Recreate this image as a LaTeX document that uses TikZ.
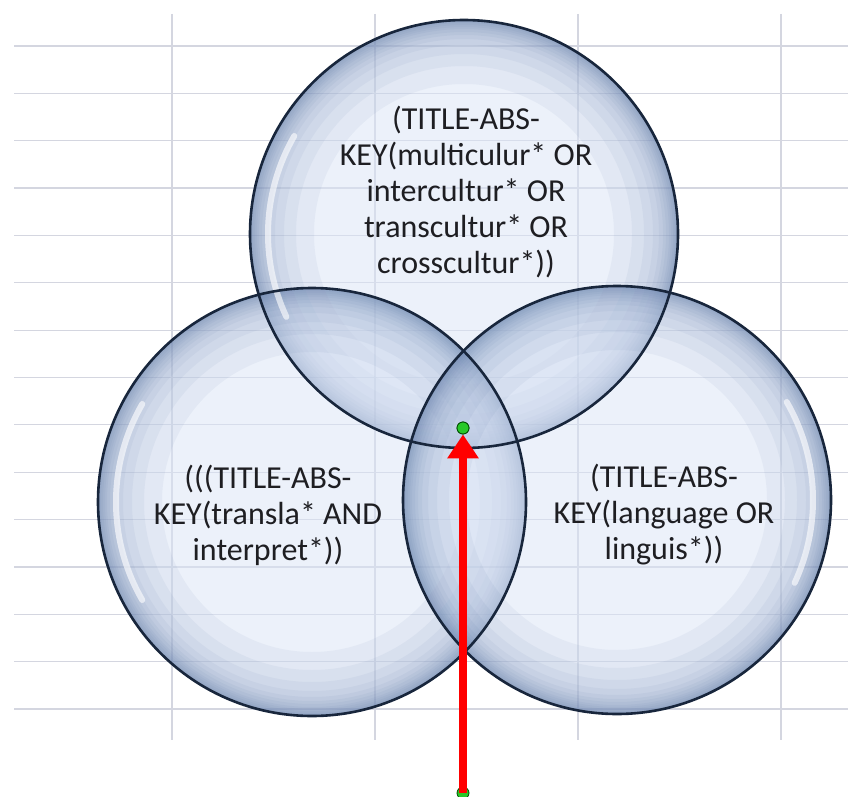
\documentclass[tikz,border=0pt]{standalone}
\usepackage{fontspec}
\setmainfont{Carlito}
\usetikzlibrary{arrows.meta}
\definecolor{gridc}{RGB}{212,214,224}
\definecolor{bbase}{rgb}{0.86,0.90,0.97}
\definecolor{bring}{rgb}{0.28,0.40,0.60}
\definecolor{outl}{RGB}{24,38,60}
\definecolor{txt}{RGB}{30,30,34}
\definecolor{gdotc}{RGB}{40,200,40}
\tikzset{
  gridline/.style={draw=gridc, line width=1.2},
  bubblebase/.style={fill=bbase, fill opacity=0.5},
  ringfill/.style={fill=bring, fill opacity=0.06, even odd rule},
  bubbleline/.style={circle, minimum size=428pt, inner sep=0pt, draw=outl, line width=2.6},
  gleam/.style={draw=white, line width=6, draw opacity=0.6, line cap=round},
  label/.style={align=center, text=txt, font=\fontsize{32}{36}\selectfont},
  gdot/.style={circle, fill=gdotc, draw=black!70!green, line width=0.8, minimum size=12pt, inner sep=0pt},
  redarrow/.style={draw=red, line width=8, -{Triangle[length=24pt,width=30pt]}}
}
\begin{document}
\begin{tikzpicture}[x=1pt,y=-1pt]
\useasboundingbox (0,0) rectangle (848,797);
\fill[white] (0,0) rectangle (848,797);
% spreadsheet grid
\foreach \i in {0,...,14} \draw[gridline] (14,46+47.357*\i) -- (848,46+47.357*\i);
\foreach \x in {172,375,578,781} \draw[gridline] (\x,14) -- (\x,740);
% bubble centres
\coordinate (ctop) at (464,234);
\coordinate (cleft) at (312,502);
\coordinate (cright) at (617,500);
% bubble fills with an inner edge gradient
\foreach \c in {ctop,cleft,cright}{
  \fill[bubblebase] (\c) circle[radius=214];
  \foreach \rr in {150,168,180,189,195,199,202,205,207,209,211,212.5}
    \fill[ringfill] (\c) circle[radius=214] (\c) circle[radius=\rr];
}
% gleams
\draw[gleam] (ctop) ++(-205:196) arc[start angle=-205, end angle=-150, radius=196];
\draw[gleam] (cleft) ++(-210:196) arc[start angle=-210, end angle=-150, radius=196];
\draw[gleam] (cright) ++(-30:196) arc[start angle=-30, end angle=25, radius=196];
% outlines
\node[bubbleline] (top) at (ctop) {};
\node[bubbleline] (left) at (cleft) {};
\node[bubbleline] (right) at (cright) {};
% texts
\node[label] (ttop) at (466,192) {(TITLE-ABS-\\KEY(multiculur* OR\\intercultur* OR\\transcultur* OR\\crosscultur*))};
\node[label] (tleft) at (268,515) {(((TITLE-ABS-\\KEY(transla* AND\\interpret*))};
\node[label] (tright) at (664,515) {(TITLE-ABS-\\KEY(language OR\\linguis*))};
% arrow
\node[gdot] (gtop) at (463,428) {};
\node[gdot] (gbot) at (463,793) {};
\draw[redarrow] (gbot.center) -- (gtop.south);
\node[gdot] (gtopfront) at (gtop) {};
\end{tikzpicture}
\end{document}
